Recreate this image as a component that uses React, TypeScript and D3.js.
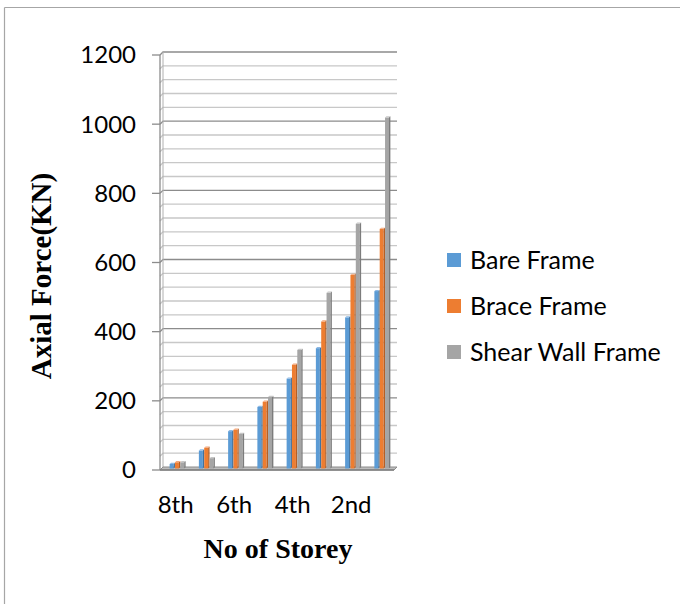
import React from "react";
import * as d3 from "d3";

const categories = ["8th", "7th", "6th", "5th", "4th", "3rd", "2nd", "1st"];
const seriesNames = ["Bare Frame", "Brace Frame", "Shear Wall Frame"];
const bareFrame = [13, 52, 108, 178, 260, 348, 437, 513];
const braceFrame = [18, 60, 112, 193, 300, 425, 560, 693];
const shearWallFrame = [18, 30, 100, 207, 343, 508, 708, 1015];
const yTicks = [0, 200, 400, 600, 800, 1000, 1200];
const colors = ["#5B9BD5", "#ED7D31", "#A5A5A5"];
const sideColors = ["#41729f", "#b65f24", "#7c7c7c"];
const topColors = ["#8db8e3", "#f3a577", "#c6c6c6"];

const seriesValues = [bareFrame, braceFrame, shearWallFrame];

export default function App() {
  const left = 163;
  const right = 397;
  const yBack0 = 467;
  const yBackTop = 52;
  const depth = 3;
  const y = d3.scaleLinear().domain([0, 1200]).range([yBack0, yBackTop]);
  const x = d3
    .scaleBand<string>()
    .domain(categories)
    .range([left, right])
    .paddingInner(0.453)
    .paddingOuter(0.2265);
  const xs = d3.scaleBand<string>().domain(seriesNames).range([0, x.bandwidth()]);
  const minor = d3.range(0, 1201, 40);
  const tickFont = "Lato, 'Open Sans', sans-serif";
  const bw = xs.bandwidth();
  const side = 1.4;
  const front = bw - side;
  const floorY = yBack0 + 1.5;
  const serif = "'Liberation Serif', 'Times New Roman', serif";

  return (
    <svg width={680} height={604} style={{ position: "absolute", left: 0, top: 0, background: "#fff" }}>
      <line x1={4.5} y1={7.5} x2={680} y2={7.5} stroke="#a6a6a6" strokeWidth={1.2} />
      <line x1={4.5} y1={7.5} x2={4.5} y2={604} stroke="#a6a6a6" strokeWidth={1.2} />

      {/* gridlines */}
      {minor.map((v) => {
        const major = v % 200 === 0;
        if (v === 0) return null;
        return (
          <polyline
            key={v}
            points={`${left - depth},${y(v) + depth} ${left},${y(v)} ${right},${y(v)}`}
            fill="none"
            stroke={major ? "#8c8c8c" : "#c8c8c8"}
            strokeWidth={1.3}
          />
        );
      })}
      {/* wall edges */}
      <line x1={left - depth} y1={y(0) + depth} x2={left - depth} y2={y(1200) + depth} stroke="#8c8c8c" strokeWidth={1.3} />
      <line x1={left} y1={y(0)} x2={left} y2={y(1200)} stroke="#b0b0b0" strokeWidth={1} />
      {/* floor */}
      <polygon
        points={`${left - depth},${y(0) + depth} ${left},${y(0)} ${right},${y(0)} ${right - depth},${y(0) + depth}`}
        fill="#bdbdbd"
        stroke="#8c8c8c"
        strokeWidth={1}
      />
      <line x1={left - depth} y1={y(0) + depth} x2={right - depth} y2={y(0) + depth} stroke="#7f7f7f" strokeWidth={1.5} />

      {/* ticks */}
      {yTicks.map((v) => (
        <g key={v}>
          <line x1={left - depth - 8} x2={left - depth} y1={y(v) + depth} y2={y(v) + depth} stroke="#8c8c8c" strokeWidth={1.3} />
          <text x={136} y={y(v) + depth} dy="0.35em" textAnchor="end" fontFamily={tickFont} fontSize={24} fill="#000">
            {v}
          </text>
        </g>
      ))}

      {/* bars */}
      {categories.map((c, i) => (
        <g key={c}>
          {seriesNames.map((s, j) => {
            const v = seriesValues[j][i];
            const x0 = (x(c) as number) + (xs(s) as number);
            const yt = y(v) + 1.5;
            return (
              <g key={s}>
                <rect x={x0} y={yt} width={front} height={floorY - yt} fill={colors[j]} />
                <polygon
                  points={`${x0 + front},${yt} ${x0 + bw},${yt - 1.2} ${x0 + bw},${floorY - 1.2} ${x0 + front},${floorY}`}
                  fill={sideColors[j]}
                />
                <polygon
                  points={`${x0},${yt} ${x0 + side},${yt - 1.2} ${x0 + bw},${yt - 1.2} ${x0 + front},${yt}`}
                  fill={topColors[j]}
                />
              </g>
            );
          })}
        </g>
      ))}

      {/* x labels */}
      {categories.map((c, i) =>
        i % 2 === 0 ? (
          <text
            key={c}
            x={(x(c) as number) + x.bandwidth() / 2 - 2}
            y={505}
            dy="0.35em"
            textAnchor="middle"
            fontFamily={tickFont}
            fontSize={24}
            fill="#000"
          >
            {c}
          </text>
        ) : null
      )}

      <text x={278} y={548} dy="0.35em" textAnchor="middle" fontFamily={serif} fontWeight="bold" fontSize={28}>
        No of Storey
      </text>
      <text
        transform={`translate(41,276) rotate(-90)`}
        dy="0.35em"
        textAnchor="middle"
        fontFamily={serif}
        fontWeight="bold"
        fontSize={29}
      >
        Axial Force(KN)
      </text>

      {/* legend */}
      {seriesNames.map((s, j) => (
        <g key={s} transform={`translate(447, ${260 + j * 46})`}>
          <rect x={0} y={-7} width={14} height={14} fill={colors[j]} />
          <text x={23} y={0} dy="0.35em" fontFamily={tickFont} fontSize={25} fill="#000">
            {s}
          </text>
        </g>
      ))}
    </svg>
  );
}
